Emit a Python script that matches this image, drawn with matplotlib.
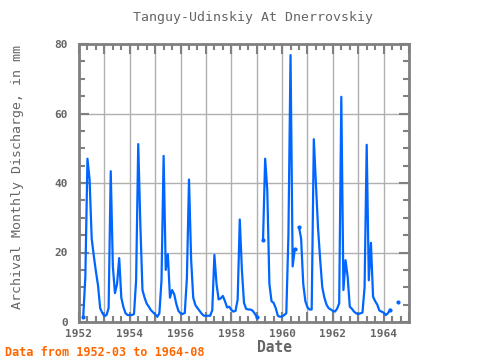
import numpy as np
import matplotlib
matplotlib.use("Agg")
import matplotlib.pyplot as plt
from matplotlib.ticker import MultipleLocator

nan = np.nan
start_year = 1952
v1952 = [nan, nan, 1.5, 13, 47, 41, 24, 19, 14.5, 10.5, 4, 2.6]
v1953 = [1.7, 2.0, 4, 43.4, 16, 8.3, 11, 18.4, 7, 4.3, 2.5, 2.0]
v1954 = [2.0, 2.0, 2.3, 12, 51.2, 28, 9.2, 7, 5.3, 4.4, 3.4, 2.8]
v1955 = [2.2, 1.5, 2.5, 12, 47.8, 15, 19.5, 7, 9.2, 8, 5.2, 3.2]
v1956 = [2.5, 2.3, 2.6, 12.6, 41, 18, 7, 4.9, 4, 3.2, 2.4, 1.8]
v1957 = [1.8, 1.8, 1.8, 3.4, 19.3, 11, 6.5, 6.8, 7.5, 6, 4.2, 4.4]
v1958 = [3.5, 3.0, 3.2, 6.5, 29.5, 15, 5.5, 3.8, 3.6, 3.6, 3.3, 2.5]
v1959 = [1.5, nan, nan, 23.6, 47, 38, 11, 6, 5.5, 4, 1.8, 1.5]
v1960 = [1.6, 2.0, 2.5, 25, 76.8, 16, 21, nan, 27.3, 24, 11, 6]
v1961 = [4.2, 3.6, 3.6, 52.6, 40, 27, 18, 10, 7, 5, 4, 3.6]
v1962 = [3.2, 3.0, 3.8, 5.4, 64.8, 9.2, 17.8, 13, 4.4, 3.8, 3.0, 2.5]
v1963 = [2.3, 2.5, 2.7, 10, 51, 12, 22.8, 7.3, 6, 5, 3.3, 3.0]
v1964 = [2.7, 2.0, 2.5, 3.5, nan, nan, nan, 5.8, nan, nan, nan, nan]

title = "Tanguy-Udinskiy At Dnerrovskiy"
ylabel = "Archival Monthly Discharge, in mm"
xlabel = "Date"
note = "Data from 1952-03 to 1964-08"
xticks = [1952, 1954, 1956, 1958, 1960, 1962, 1964]
yticks = [0, 20, 40, 60, 80]

values = np.array(v1952 + v1953 + v1954 + v1955 + v1956 + v1957 + v1958 +
                  v1959 + v1960 + v1961 + v1962 + v1963 + v1964, dtype=float)
t = start_year + np.arange(len(values)) / 12.0

# points next to a gap (start/end of a segment) get a visible marker
valid = ~np.isnan(values)
prev_nan = np.r_[True, ~valid[:-1]]
next_nan = np.r_[~valid[1:], True]
edge = valid & (prev_nan | next_nan)

font = "DejaVu Sans Mono"
grey = "#666666"
blue = "#0066ff"
fig = plt.figure(figsize=(4.8, 3.6), dpi=100)
ax = fig.add_axes([79/480, 38/360, 330/480, 278/360])
ax.plot(t, values, color=blue, lw=1.6)
ax.plot(t[edge], values[edge], ls="none", marker="o", ms=3, mew=0, color=blue)
ax.set_xlim(1952, 1965)
ax.set_ylim(0, 80)
ax.xaxis.set_minor_locator(MultipleLocator(1/3))
ax.yaxis.set_minor_locator(MultipleLocator(5))
ax.set_xticks([y for y in range(1952, 1966)])
ax.set_xticklabels([str(y) if y in xticks else "" for y in range(1952, 1966)])
ax.set_yticks(yticks)
ax.set_yticklabels([str(v) for v in yticks])
ax.grid(True, which="major", color="#b0b0b0", lw=1)
ax.set_axisbelow(True)
ax.tick_params(which="both", direction="in", top=True, right=True, color="#808080",
               labelcolor=grey, labelsize=8, width=1.5)
ax.tick_params(axis="x", which="major", length=7, pad=5)
ax.tick_params(axis="y", which="major", length=7, pad=8)
ax.tick_params(which="minor", length=4)
for lab in ax.get_xticklabels() + ax.get_yticklabels():
    lab.set_family(font)
    lab.set_fontweight("bold")
for s in ax.spines.values():
    s.set_color("#808080")
    s.set_linewidth(2)

fig.text(253/480, 1 - 18/360, title, ha="center", va="center", family=font,
         fontsize=9.5, color=grey)
fig.text(18/480, 183/360, ylabel, ha="center", va="center", rotation=90,
         family=font, fontsize=9.5, color=grey)
fig.text(274/480, 1 - 348/360, xlabel, ha="center", va="center", family=font,
         fontsize=10.5, color=grey, fontweight="bold")
fig.text(5/480, 1 - 353/360, note, ha="left", va="center", family=font,
         fontsize=8.5, color="#ff6600", fontweight="bold")
fig.savefig("out.png", dpi=100)
